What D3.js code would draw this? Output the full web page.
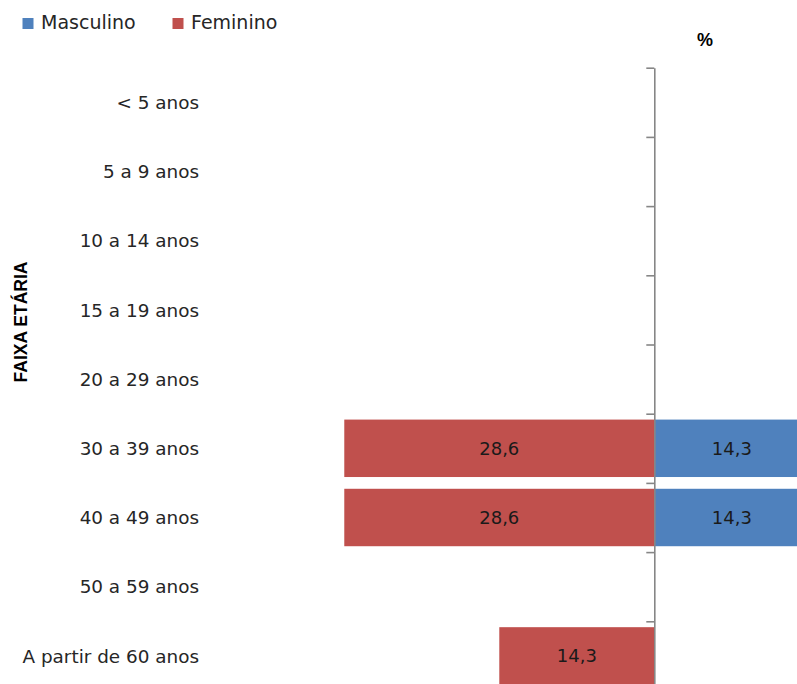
<!DOCTYPE html>
<html>
<head>
<meta charset="utf-8">
<script src="https://cdn.jsdelivr.net/npm/d3@7"></script>
<style>
  body { margin: 0; background: #fff; }
  svg { display: block; }
  .cat, .legend, .val { font-family: "DejaVu Sans", sans-serif; fill: #262626; }
  .val { fill: #1a1a1a; }
  .bold { font-family: "Liberation Sans", Arial, sans-serif; font-weight: bold; fill: #000; }
</style>
</head>
<body>
<div id="chart"></div>
<script>
var categories = ["< 5 anos", "5 a 9 anos", "10 a 14 anos", "15 a 19 anos", "20 a 29 anos",
  "30 a 39 anos", "40 a 49 anos", "50 a 59 anos", "A partir de 60 anos"];
var masculino = [0, 0, 0, 0, 0, 14.3, 14.3, 0, 0];
var feminino = [0, 0, 0, 0, 0, 28.6, 28.6, 0, 14.3];
var seriesNames = ["Masculino", "Feminino"];
var seriesColors = ["#4F81BD", "#C0504D"];

var width = 797;
var height = 684;

var svg = d3.select("#chart")
  .append("svg")
  .attr("width", width)
  .attr("height", height);

// axis in the middle, female to the left, male to the right
var x = d3.scaleLinear().domain([-30, 30]).range([654.3 - 325.2, 654.3 + 325.2]);

var yTop = 67.7, yBottom = 690.5;
var y = d3.scaleBand().domain(categories).range([yTop, yBottom])
  .paddingInner(0.17).paddingOuter(0.085);
var yTicks = d3.scaleLinear().domain([0, categories.length]).range([yTop, yBottom]);

var fmt = function (v) { return d3.format(".1f")(v).replace(".", ","); };

var rows = categories.map(function (c, i) {
  return { cat: c, m: masculino[i], f: feminino[i] };
});

// female bars
svg.selectAll("rect.fem")
  .data(rows.filter(function (d) { return d.f > 0; }))
  .enter().append("rect")
  .attr("class", "fem")
  .attr("x", function (d) { return x(-d.f); })
  .attr("y", function (d) { return y(d.cat); })
  .attr("width", function (d) { return x(0) - x(-d.f); })
  .attr("height", y.bandwidth())
  .attr("fill", seriesColors[1]);

// male bars
svg.selectAll("rect.masc")
  .data(rows.filter(function (d) { return d.m > 0; }))
  .enter().append("rect")
  .attr("class", "masc")
  .attr("x", x(0))
  .attr("y", function (d) { return y(d.cat); })
  .attr("width", function (d) { return x(d.m) - x(0); })
  .attr("height", y.bandwidth())
  .attr("fill", seriesColors[0]);

// value labels
svg.selectAll("text.vf")
  .data(rows.filter(function (d) { return d.f > 0; }))
  .enter().append("text")
  .attr("class", "val")
  .attr("x", function (d) { return (x(-d.f) + x(0)) / 2; })
  .attr("y", function (d) { return y(d.cat) + y.bandwidth() / 2; })
  .attr("dy", "0.36em")
  .attr("text-anchor", "middle")
  .style("font-size", "18px")
  .text(function (d) { return fmt(d.f); });

svg.selectAll("text.vm")
  .data(rows.filter(function (d) { return d.m > 0; }))
  .enter().append("text")
  .attr("class", "val")
  .attr("x", function (d) { return (x(d.m) + x(0)) / 2; })
  .attr("y", function (d) { return y(d.cat) + y.bandwidth() / 2; })
  .attr("dy", "0.36em")
  .attr("text-anchor", "middle")
  .style("font-size", "18px")
  .text(function (d) { return fmt(d.m); });

// vertical axis with ticks between the categories
var axis = svg.append("g")
  .attr("transform", "translate(" + x(0) + ",0)")
  .call(d3.axisLeft(yTicks).ticks(categories.length).tickSize(8).tickSizeOuter(0).tickFormat(""));
axis.selectAll("path, line").attr("stroke", "#868686").attr("stroke-width", 1.6);

// category labels
svg.selectAll("text.cat")
  .data(categories)
  .enter().append("text")
  .attr("class", "cat")
  .attr("x", 199)
  .attr("y", function (d) { return y(d) + y.bandwidth() / 2; })
  .attr("dy", "0.36em")
  .attr("text-anchor", "end")
  .style("font-size", "18.4px")
  .text(function (d) { return d; });

// axis titles
svg.append("text")
  .attr("class", "bold")
  .attr("x", 705)
  .attr("y", 46)
  .attr("text-anchor", "middle")
  .style("font-size", "18px")
  .text("%");

svg.append("text")
  .attr("class", "bold")
  .attr("transform", "translate(27,322) rotate(-90)")
  .attr("text-anchor", "middle")
  .style("font-size", "17.5px")
  .text("FAIXA ETÁRIA");

// legend
var legendX = [22.5, 172.5];
var legend = svg.selectAll("g.legend")
  .data(seriesNames)
  .enter().append("g")
  .attr("transform", function (d, i) { return "translate(" + legendX[i] + ",18)"; });
legend.append("rect")
  .attr("width", 11)
  .attr("height", 11)
  .attr("fill", function (d, i) { return seriesColors[i]; });
legend.append("text")
  .attr("class", "legend")
  .attr("x", 18.5)
  .attr("y", 11.3)
  .style("font-size", "19px")
  .text(function (d) { return d; });
</script>
</body>
</html>
